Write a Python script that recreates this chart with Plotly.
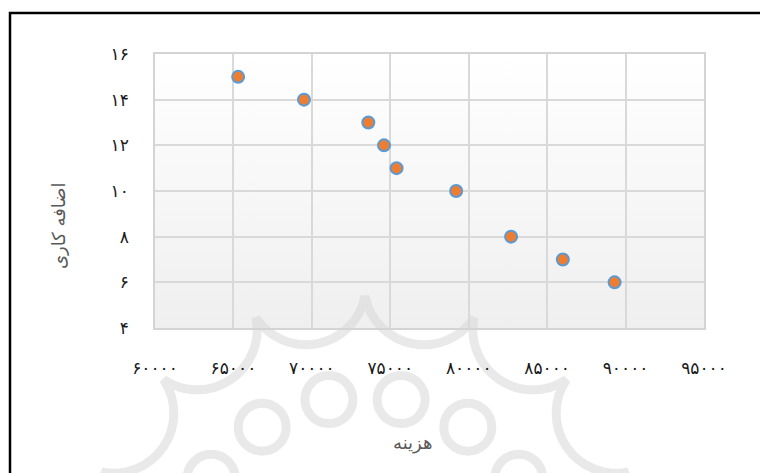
import base64
import math
import plotly.graph_objects as go

# Data
cost = [65300, 69500, 73600, 74600, 75400, 79200, 82700, 86000, 89300]
overtime = [15, 14, 13, 12, 11, 10, 8, 7, 6]

x_ticks = [60000, 65000, 70000, 75000, 80000, 85000, 90000, 95000]
x_tick_labels = ["۶۰۰۰۰", "۶۵۰۰۰", "۷۰۰۰۰", "۷۵۰۰۰", "۸۰۰۰۰", "۸۵۰۰۰", "۹۰۰۰۰", "۹۵۰۰۰"]
y_ticks = [4, 6, 8, 10, 12, 14, 16]
y_tick_labels = ["۴", "۶", "۸", "۱۰", "۱۲", "۱۴", "۱۶"]

x_title = "هزینه"
y_title = "اضافه کاری"

FONT = "DejaVu Sans"

W, H = 760, 473
L, R, T, B = 155, 56, 54, 145
pw, ph = W - L - R, H - T - B

# plot-area gradient background
grad_svg = (
    '<svg xmlns="http://www.w3.org/2000/svg" width="100" height="100" preserveAspectRatio="none">'
    '<defs><linearGradient id="g" x1="0" y1="0" x2="0" y2="1">'
    '<stop offset="0" stop-color="#ffffff"/><stop offset="1" stop-color="#efefef"/>'
    '</linearGradient></defs><rect width="100" height="100" fill="url(#g)"/></svg>'
)
grad_uri = "data:image/svg+xml;base64," + base64.b64encode(grad_svg.encode()).decode()

# faint decorative watermark (rosette) behind the chart
cx, cy, Ro, N = 365, 581, 285, 16
pts = []
for k in range(N):
    a = math.radians(90 + k * 360 / N)
    pts.append((cx + Ro * math.cos(a), cy - Ro * math.sin(a)))
path = "M %.1f %.1f " % pts[0]
for k in range(1, N + 1):
    p = pts[k % N]
    path += "A 60 60 0 0 1 %.1f %.1f " % p
path += "Z"
circles = ""
for k in range(N):
    a = math.radians(90 + 11.25 + k * 360 / N)
    circles += '<circle cx="%.1f" cy="%.1f" r="24"/>' % (cx + 185 * math.cos(a), cy - 185 * math.sin(a))
wm_svg = (
    '<svg xmlns="http://www.w3.org/2000/svg" width="%d" height="%d" viewBox="0 0 %d %d">'
    '<g fill="none" stroke="#d8d8d8" stroke-width="9" opacity="0.55">'
    '<path d="%s"/>%s</g></svg>' % (W, H, W, H, path, circles)
)
wm_uri = "data:image/svg+xml;base64," + base64.b64encode(wm_svg.encode()).decode()

fig = go.Figure()
fig.add_trace(go.Scatter(
    x=cost, y=overtime, mode="markers",
    marker=dict(size=12, color="#ED7D31", line=dict(color="#5B9BD5", width=2)),
    showlegend=False, hoverinfo="x+y",
))

fig.update_layout(
    width=W, height=H,
    margin=dict(l=L, r=R, t=T, b=B),
    paper_bgcolor="white",
    plot_bgcolor="rgba(0,0,0,0)",
    font=dict(family=FONT, color="#222222", size=13),
    images=[
        dict(source=grad_uri, xref="paper", yref="paper", x=0, y=1,
             sizex=1, sizey=1, sizing="stretch", layer="below",
             xanchor="left", yanchor="top"),
        dict(source=wm_uri, xref="paper", yref="paper", x=-L / pw, y=(H - B) / ph,
             sizex=W / pw, sizey=H / ph, sizing="stretch", layer="below",
             xanchor="left", yanchor="top"),
    ],
    xaxis=dict(
        range=[60000, 95000], tickvals=x_ticks, ticktext=x_tick_labels,
        showgrid=True, gridcolor="#d9d9d9", gridwidth=1.5,
        showline=True, linecolor="#d4d4d4", linewidth=1.5, mirror=True,
        ticks="outside", ticklen=24, tickcolor="rgba(0,0,0,0)",
        tickfont=dict(family=FONT, size=17, color="#1a1a1a"),
        zeroline=False, fixedrange=True,
    ),
    yaxis=dict(
        range=[4, 16], tickvals=y_ticks, ticktext=y_tick_labels,
        showgrid=True, gridcolor="#d9d9d9", gridwidth=1.5,
        showline=True, linecolor="#d4d4d4", linewidth=1.5, mirror=True,
        ticks="outside", ticklen=21, tickcolor="rgba(0,0,0,0)",
        tickfont=dict(family=FONT, size=17, color="#1a1a1a"),
        zeroline=False, fixedrange=True,
    ),
    annotations=[
        dict(text=x_title, xref="paper", yref="paper",
             x=(413 - L) / pw, y=(H - B - 443) / ph, showarrow=False,
             xanchor="center", yanchor="middle",
             font=dict(family=FONT, size=18, color="#595959")),
        dict(text=y_title, xref="paper", yref="paper",
             x=(58 - L) / pw, y=(H - B - 226) / ph, showarrow=False, textangle=-90,
             xanchor="center", yanchor="middle",
             font=dict(family=FONT, size=18, color="#595959")),
    ],
    shapes=[
        dict(type="rect", xref="paper", yref="paper",
             x0=(10 - L) / pw, x1=(800 - L) / pw,
             y0=(H - B - 520) / ph, y1=(H - B - 13) / ph,
             line=dict(color="black", width=2.5), fillcolor="rgba(0,0,0,0)", layer="above"),
    ],
)

fig.write_html("out.html", config={"displayModeBar": False},
               post_script="document.body.style.margin='0';")
